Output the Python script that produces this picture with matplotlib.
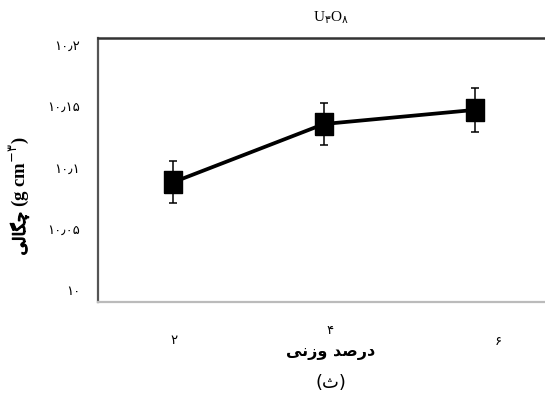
import matplotlib
matplotlib.use("Agg")
import matplotlib.pyplot as plt
import matplotlib.transforms as mtransforms
import matplotlib.patheffects as pe

# ---- data ----
x_vals = [2, 4, 6]
density = [10.088, 10.1355, 10.147]
errors = [0.0172, 0.0175, 0.0178]
x_tick_labels = ["۲", "۴", "۶"]
y_ticks = [10.0, 10.05, 10.1, 10.15, 10.2]
y_tick_labels = ["۱۰", "۱۰٫۰۵", "۱۰٫۱", "۱۰٫۱۵", "۱۰٫۲"]

# pre-shaped Persian text (visual order, presentation forms)
xlabel_txt = "\uFEF0\uFEE7\uFEAF\uFEED \uFEAA\uFEBB\uFEAD\uFEA9"        # درصد وزنی
ylabel_fa = "\uFEF0\uFEDF\uFE8E\uFB95\uFB7C"                           # چگالی
ylabel_unit = "(g cm$^{-۳}$)"
caption_txt = "(\u062B)"                                             # (ث)

plt.rcParams['mathtext.fontset'] = 'custom'
plt.rcParams['mathtext.rm'] = 'DejaVu Sans'
plt.rcParams['mathtext.it'] = 'DejaVu Sans'
plt.rcParams['mathtext.bf'] = 'DejaVu Sans:bold'

fig = plt.figure(figsize=(5.45, 4.03), dpi=100)
W, H = 545, 403
ax = fig.add_axes([98 / W, (H - 302) / H, (550 - 98) / W, (302 - 38) / H])

rect_marker = [(-0.75, -1), (0.75, -1), (0.75, 1), (-0.75, 1), (-0.75, -1)]
ax.errorbar(x_vals, density, yerr=errors, color='black', lw=2.7,
            marker=rect_marker, markersize=16.5, markerfacecolor='black',
            markeredgecolor='black', ecolor='black', elinewidth=1.1,
            capsize=2.6, capthick=1.1, zorder=3)

ax.set_xlim(1, 7)
ax.set_ylim(9.9902, 10.2057)
ax.set_yticks(y_ticks)
ax.set_yticklabels(y_tick_labels, fontfamily='DejaVu Sans', fontsize=9.5)
ax.set_xticks(x_vals)
ax.set_xticklabels(x_tick_labels, fontfamily='DejaVu Sans', fontsize=9.5)
ax.tick_params(axis='both', length=0)
ax.tick_params(axis='y', pad=13)
ax.tick_params(axis='x', pad=23)

# reproduce the odd label offsets of the reference (in pixels)
offsets = [(1, 0), (6, 10), (24, -1)]
for lab, (dx, dy) in zip(ax.get_xticklabels(), offsets):
    lab.set_transform(lab.get_transform() +
                      mtransforms.ScaledTranslation(dx / 100, dy / 100, fig.dpi_scale_trans))

ax.spines['right'].set_visible(False)
ax.spines['left'].set_color('#555555')
ax.spines['left'].set_linewidth(1.6)
ax.spines['top'].set_color('#333333')
ax.spines['top'].set_linewidth(1.8)
ax.spines['bottom'].set_color('#bbbbbb')
ax.spines['bottom'].set_linewidth(1.6)

# title U3O8 with Persian subscripts
fig.text(331 / W, 1 - 18 / H, "U$_{۳}$O$_{۸}$", ha='center', va='center',
         fontsize=11, fontfamily='Liberation Serif')

# axis labels
fig.text(331 / W, 1 - 353 / H, xlabel_txt, ha='center', va='center',
         fontsize=11.5, fontweight='bold', fontfamily=['DejaVu Sans'])
base_x = 25 / W
fig.text(base_x, 1 - 212 / H, ylabel_fa, ha='right', va='baseline',
         rotation=90, rotation_mode='anchor', fontsize=12, fontfamily='DejaVu Sans',
         path_effects=[pe.withStroke(linewidth=0.8, foreground='black')])
fig.text(base_x, 1 - 207 / H, ylabel_unit, ha='left', va='baseline',
         rotation=90, rotation_mode='anchor', fontsize=13.5, fontweight='bold',
         fontfamily='Liberation Serif')
fig.text(331 / W, 1 - 383 / H, caption_txt, ha='center', va='center',
         fontsize=13, fontfamily=['DejaVu Sans'])

fig.savefig("out.png", dpi=100)
